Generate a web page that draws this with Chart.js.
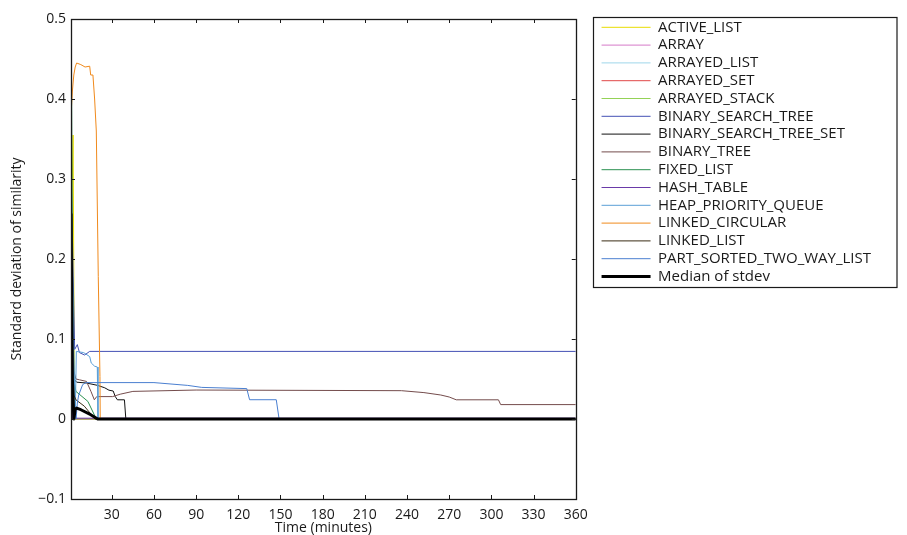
<!DOCTYPE html>
<html>
<head>
<meta charset="utf-8">
<title>Standard deviation of similarity</title>
<script src="https://cdn.jsdelivr.net/npm/chart.js@4.4.1/dist/chart.umd.min.js"></script>
<style>
  html, body { margin: 0; padding: 0; background: #fff; }
  #wrap { width: 907px; height: 535px; }
</style>
</head>
<body>
<div id="wrap"><canvas id="stdevChart" width="907" height="535"></canvas></div>
<script>
// axis ticks
const xTicks = [30, 60, 90, 120, 150, 180, 210, 240, 270, 300, 330, 360];
const yTicks = [-0.1, 0, 0.1, 0.2, 0.3, 0.4, 0.5];

// [minute, stdev] per data structure
const activeList = [[1, 0.20], [2.5, 0.355], [3.5, 0], [360, 0]];
const array = [[1, 0.12], [2, 0], [360, 0]];
const arrayedList = [[1, 0.22], [2.5, 0.02], [4, 0], [360, 0]];
const arrayedSet = [[1, 0.15], [2, 0], [360, 0]];
const arrayedStack = [[1, 0.42], [2, 0.10], [3, 0], [360, 0]];
const binarySearchTree = [[1, 0.32], [3.6, 0.087], [5.5, 0.093], [7, 0.083], [10.7, 0.080], [14.3, 0.0845], [360, 0.0845]];
const binarySearchTreeSet = [[1, 0.20], [3, 0.05], [5, 0.046], [12, 0.045], [20, 0.042], [25, 0.039], [28, 0.036],
  [31, 0.035], [32.5, 0.028], [34, 0.024], [39, 0.024], [40, 0], [360, 0]];
const binaryTree = [[1, 0.22], [3, 0.06], [4.5, 0.050], [7, 0.049], [12, 0.047], [15.2, 0.0345], [17.6, 0.024],
  [19.3, 0.028], [30.6, 0.028], [36, 0.031], [45, 0.0345], [90, 0.0362], [236, 0.0354], [252, 0.033],
  [264, 0.030], [270, 0.0275], [275, 0.024], [305, 0.024], [306.6, 0.018], [360, 0.018]];
const fixedList = [[1, 0.56], [2, 0.20], [3, 0.05], [4.5, 0.0345], [13, 0.022], [19, 0], [360, 0]];
const hashTable = [[1, 0.05], [2, 0.001], [360, 0.001]];
const heapPriorityQueue = [[1, 0.26], [4, 0], [4.8, 0.0845], [10, 0.083], [14.3, 0.078], [15.4, 0.070],
  [17.8, 0.066], [19.7, 0.065], [20.2, 0], [360, 0]];
const linkedCircular = [[1, 0.38], [2, 0.41], [3, 0.43], [4, 0.44], [5, 0.445], [8, 0.443], [11, 0.44],
  [14.3, 0.441], [15, 0.43], [16.6, 0.43], [17.8, 0.40], [19, 0.36], [20.4, 0.178], [21.6, 0.053],
  [21.8, 0], [360, 0]];
const linkedList = [[1, 0.18], [3, 0.03], [4.5, 0.024], [10.5, 0.016], [17.6, 0.001], [18, 0], [360, 0]];
const partSortedTwoWayList = [[1, 0.30], [3, 0.02], [4.6, 0], [5.5, 0.02], [6.5, 0.030], [9.3, 0.043],
  [11.7, 0.0455], [60, 0.0455], [84, 0.042], [94, 0.0395], [126, 0.038], [128, 0.0241], [147, 0.0241],
  [149, 0], [360, 0]];
const medianStdev = [[1, 0.257], [2, 0.05], [3, 0], [4, 0.012], [5, 0.0137], [8, 0.0116], [15, 0.0054],
  [20, 0], [360, 0]];

const seriesNames = ['ACTIVE_LIST', 'ARRAY', 'ARRAYED_LIST', 'ARRAYED_SET', 'ARRAYED_STACK',
  'BINARY_SEARCH_TREE', 'BINARY_SEARCH_TREE_SET', 'BINARY_TREE', 'FIXED_LIST', 'HASH_TABLE',
  'HEAP_PRIORITY_QUEUE', 'LINKED_CIRCULAR', 'LINKED_LIST', 'PART_SORTED_TWO_WAY_LIST', 'Median of stdev'];
const seriesData = [activeList, array, arrayedList, arrayedSet, arrayedStack, binarySearchTree,
  binarySearchTreeSet, binaryTree, fixedList, hashTable, heapPriorityQueue, linkedCircular,
  linkedList, partSortedTwoWayList, medianStdev];
const seriesColors = ['#e8dc00', '#d67ac8', '#9fd6ea', '#e04848', '#94d256', '#4450b4', '#111111',
  '#744c4c', '#2a9050', '#6a3aa8', '#5a9fd6', '#f08a1c', '#3a2c14', '#4a7fd0', '#000000'];

const FONT = "'Open Sans', sans-serif";

// MATLAB style box: frame plus inward ticks on all four sides, and a box round the legend
const axesBox = {
  id: 'axesBox',
  afterDatasetsDraw(chart) {
    const { ctx, chartArea: a, scales: { x, y } } = chart;
    ctx.save();
    ctx.strokeStyle = '#1a1a1a';
    ctx.lineWidth = 1;
    ctx.beginPath();
    xTicks.forEach(v => {
      const px = Math.round(x.getPixelForValue(v)) + 0.5;
      ctx.moveTo(px, a.bottom); ctx.lineTo(px, a.bottom - 4);
      ctx.moveTo(px, a.top); ctx.lineTo(px, a.top + 4);
    });
    yTicks.forEach(v => {
      const py = Math.round(y.getPixelForValue(v)) + 0.5;
      ctx.moveTo(a.left, py); ctx.lineTo(a.left + 4, py);
      ctx.moveTo(a.right, py); ctx.lineTo(a.right - 4, py);
    });
    ctx.stroke();
    ctx.lineWidth = 1.3;
    ctx.strokeRect(Math.round(a.left) + 0.5, Math.round(a.top) + 0.5,
      Math.round(a.right - a.left), Math.round(a.bottom - a.top));
    ctx.restore();
  },
  afterDraw(chart) {
    const lg = chart.legend;
    const hb = lg.legendHitBoxes;
    if (!hb || !hb.length) return;
    const first = hb[0], last = hb[hb.length - 1];
    const left = Math.round(lg.left - 6) + 0.5;
    const top = Math.round(first.top - 3) + 0.5;
    const bottom = Math.round(last.top + last.height + 3) + 0.5;
    const ctx = chart.ctx;
    ctx.save();
    ctx.strokeStyle = '#1a1a1a';
    ctx.lineWidth = 1.2;
    ctx.strokeRect(left, top, 897 - left, bottom - top);
    ctx.restore();
  }
};

const datasets = seriesNames.map((name, i) => ({
  label: name,
  data: seriesData[i],
  borderColor: seriesColors[i],
  backgroundColor: seriesColors[i],
  borderWidth: i === seriesNames.length - 1 ? 3 : 1,
  borderJoinStyle: 'round',
  pointRadius: 0,
  fill: false,
  tension: 0,
  order: -i
}));

const hiddenAxis = {
  type: 'linear',
  display: true,
  grid: { display: false, drawTicks: false },
  border: { display: false },
  ticks: { display: false }
};

new Chart(document.getElementById('stdevChart'), {
  type: 'line',
  data: { datasets },
  options: {
    responsive: false,
    animation: false,
    devicePixelRatio: 1,
    layout: { padding: { top: 17, right: 26, bottom: 0, left: 0 } },
    plugins: {
      tooltip: { enabled: false },
      legend: {
        position: 'right',
        align: 'start',
        maxWidth: 400,
        labels: {
          usePointStyle: true,
          pointStyle: 'line',
          pointStyleWidth: 49,
          padding: 2.8,
          color: '#1a1a1a',
          font: { family: FONT, size: 15 },
          sort: (a, b) => a.datasetIndex - b.datasetIndex
        }
      }
    },
    scales: {
      x: {
        type: 'linear',
        min: 1,
        max: 360,
        grid: { display: false, drawTicks: false },
        border: { display: false },
        afterBuildTicks: s => { s.ticks = xTicks.map(v => ({ value: v })); },
        afterFit: s => { s.height = 36; },
        ticks: { color: '#1a1a1a', padding: 8, maxRotation: 0, font: { family: FONT, size: 14 } },
        title: {
          display: true,
          text: 'Time (minutes)',
          color: '#1a1a1a',
          padding: { top: 0, bottom: 0 },
          font: { family: FONT, size: 14, lineHeight: 1 }
        }
      },
      y: {
        min: -0.1,
        max: 0.5,
        grid: { display: false, drawTicks: false },
        border: { display: false },
        afterBuildTicks: s => { s.ticks = yTicks.map(v => ({ value: v })); },
        afterFit: s => { s.width = 71; },
        ticks: {
          color: '#1a1a1a',
          padding: 5,
          font: { family: FONT, size: 14 },
          callback: v => (v < 0 ? '\u2212' + Math.abs(v) : String(v))
        },
        title: {
          display: true,
          text: 'Standard deviation of similarity',
          color: '#1a1a1a',
          padding: { top: 10, bottom: 0 },
          font: { family: FONT, size: 14, lineHeight: 1 }
        }
      },
      // spacers: gap before the legend, and a little room above the plot
      gap: { ...hiddenAxis, position: 'right', afterFit: s => { s.width = 23; } },
      topGap: { ...hiddenAxis, position: 'top', afterFit: s => { s.height = 2; } }
    }
  },
  plugins: [axesBox]
});
</script>
</body>
</html>
